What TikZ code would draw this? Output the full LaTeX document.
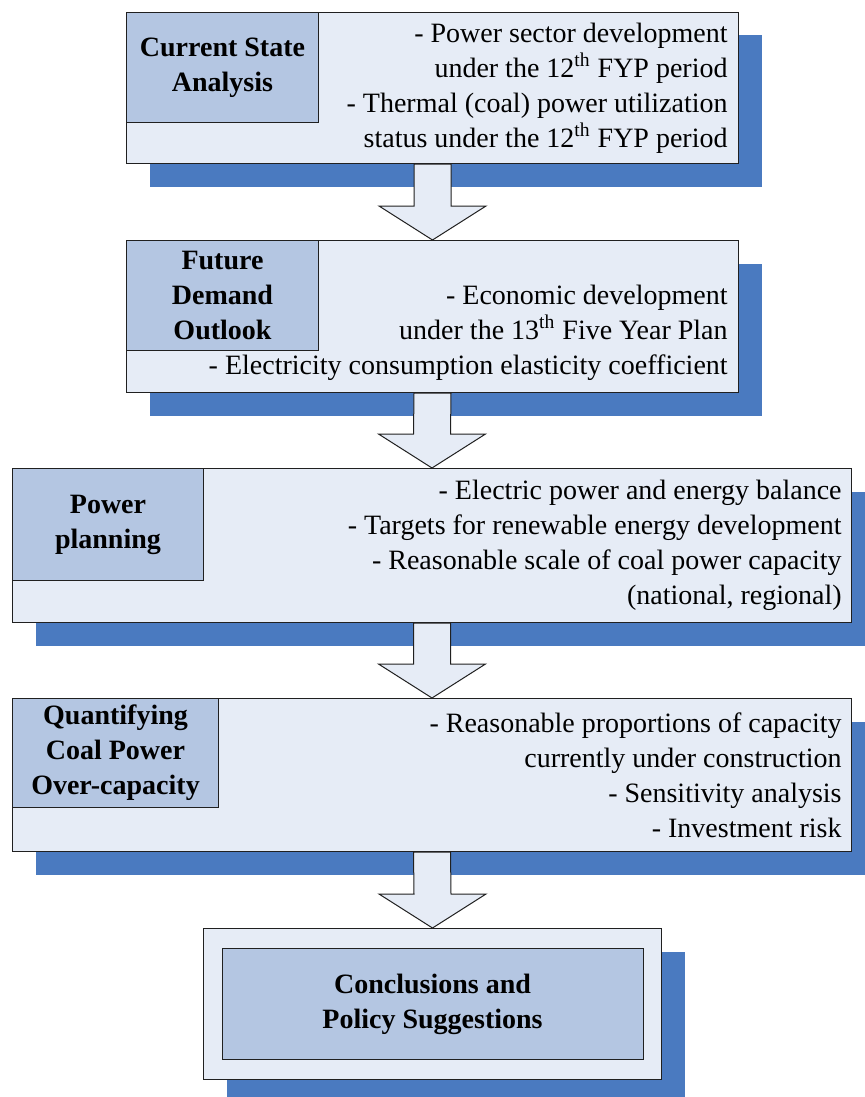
\documentclass[tikz,border=0pt]{standalone}
\usepackage{fontspec}
\setmainfont{Liberation Serif}
\usepackage{tikz}
\usetikzlibrary{calc,shadows}

\definecolor{shadowblue}{HTML}{4A7AC0}
\definecolor{boxfill}{HTML}{E6ECF6}
\definecolor{titlefill}{HTML}{B4C6E2}
\definecolor{edge}{HTML}{202020}

% fat down arrow from the bottom of one box to the top of the next
\newcommand{\blockarrow}[2]{%
	\draw[arrowbody] ($(#1.south)+(-18.5,0)$) -- ($(#2.north)+(-18.5,-34)$) -- ($(#2.north)+(-53.5,-34)$)
		-- (#2.north) -- ($(#2.north)+(53.5,-34)$) -- ($(#2.north)+(18.5,-34)$) -- ($(#1.south)+(18.5,0)$) -- cycle;}

\begin{document}
\begin{tikzpicture}[x=0.5pt, y=-0.5pt,
	every node/.style={font=\fontsize{14pt}{17.5pt}\selectfont, inner sep=0pt},
	stage/.style={draw=edge, line width=0.5pt, fill=boxfill, anchor=north west,
		drop shadow={shadow xshift=11.5pt, shadow yshift=-11.5pt, fill=shadowblue, opacity=1}},
	title/.style={draw=edge, line width=0.5pt, fill=titlefill, anchor=north west, align=center,
		font=\fontsize{14pt}{17.5pt}\selectfont\bfseries},
	items/.style={align=right},
	arrowbody/.style={draw=edge, line width=0.5pt, fill=boxfill}]
	\useasboundingbox (0,0) rectangle (864,1097);

	% stage 1
	\node[stage, minimum width=306pt, minimum height=75.5pt] (s1) at (126,12) {};
	\node[title, minimum width=96pt, minimum height=55pt] (h1) at (s1.north west) {Current State\\Analysis};
	\node[items, anchor=east, xshift=-5.5pt] (t1) at (s1.east) {- Power sector development\\under the 12\textsuperscript{th} FYP period\\- Thermal (coal) power utilization\\status under the 12\textsuperscript{th} FYP period};

	% stage 2
	\node[stage, minimum width=306pt, minimum height=76pt] (s2) at (126,240) {};
	\node[title, minimum width=96pt, minimum height=55pt] (h2) at (s2.north west) {Future\\Demand\\Outlook};
	\node[items, anchor=east, xshift=-5.5pt, yshift=-8pt] (t2) at (s2.east) {- Economic development\\under the 13\textsuperscript{th} Five Year Plan\\- Electricity consumption elasticity coefficient};

	% stage 3
	\node[stage, minimum width=419.5pt, minimum height=77pt] (s3) at (12,468) {};
	\node[title, minimum width=95.5pt, minimum height=56pt] (h3) at (s3.north west) {Power\\planning};
	\node[items, anchor=east, xshift=-5pt] (t3) at (s3.east) {- Electric power and energy balance\\- Targets for renewable energy development\\- Reasonable scale of coal power capacity\\(national, regional)};

	% stage 4
	\node[stage, minimum width=419.5pt, minimum height=76.5pt] (s4) at (12,698) {};
	\node[title, minimum width=103pt, minimum height=54.5pt] (h4) at (s4.north west) {Quantifying\\Coal Power\\Over-capacity};
	\node[items, anchor=east, xshift=-5pt] (t4) at (s4.east) {- Reasonable proportions of capacity\\currently under construction\\- Sensitivity analysis\\- Investment risk};

	% conclusions
	\node[stage, minimum width=229pt, minimum height=75.5pt] (s5) at (203,928) {};
	\node[title, anchor=center, minimum width=210.5pt, minimum height=55.5pt] (h5) at (s5.center) {Conclusions and\\Policy Suggestions};

	\blockarrow{s1}{s2}
	\blockarrow{s2}{s3}
	\blockarrow{s3}{s4}
	\blockarrow{s4}{s5}
\end{tikzpicture}
\end{document}
